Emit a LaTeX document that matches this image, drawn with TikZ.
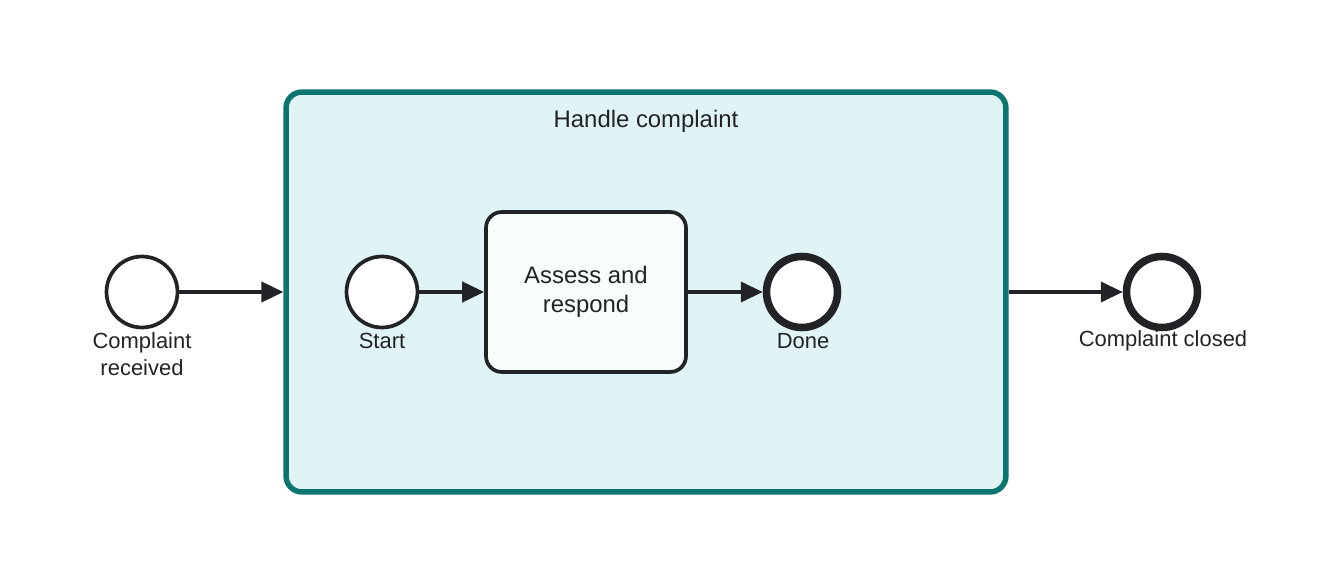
\documentclass[tikz,border=0pt]{standalone}
\usepackage{fontspec}
\setmainfont{Liberation Sans}
\usepackage{xcolor}
\usetikzlibrary{arrows.meta,positioning}

\definecolor{ink}{HTML}{222326}
\definecolor{subline}{HTML}{0E7470}
\definecolor{subfill}{HTML}{E0F4F5}
\definecolor{taskfill}{HTML}{F8FCFB}

\begin{document}
\begin{tikzpicture}[
    x=0.02cm, y=-0.02cm,
    event/.style={draw=ink, circle, line width=2.1pt, minimum size=1.42cm,
    inner sep=0pt, fill=white},
    endevent/.style={event, line width=4.3pt},
    task/.style={draw=ink, rounded corners=9pt, line width=2.1pt, fill=taskfill,
    minimum width=4cm, minimum height=3.2cm, align=center, text=ink,
    font=\fontsize{13.6}{16.5}\selectfont},
    subproc/.style={draw=subline, fill=subfill, rounded corners=9pt,
    line width=3.1pt, minimum width=14.4cm, minimum height=8cm},
    lbl/.style={align=center, text=ink, font=\fontsize{12.5}{15.3}\selectfont},
    arr/.style={-{Triangle[length=12.5pt,width=11.5pt]}, line width=1.9pt, draw=ink}
]
\useasboundingbox (0,0) rectangle (1340,584);
\node[subproc] (sub) at (646,292) {};
\node[lbl, font=\fontsize{13.6}{16}\selectfont] (subtitle) at (646,121) {Handle complaint};
\node[event] (received) at (142,292) {};
\node[event] (start) at (382,292) {};
\node[task] (assess) at (586,292) {Assess and\\respond};
\node[endevent] (done) at (802,292) {};
\node[endevent] (closed) at (1162,292) {};
\node[lbl] (receivedlbl) at (142,354) {Complaint\\received};
\node[lbl] (startlbl) at (382,341) {Start};
\node[lbl] (donelbl) at (803,341) {Done};
\node[lbl] (closedlbl) at (1163,341) {Complaint closed};
\draw[arr] (received) -- (sub.west |- received);
\draw[arr] (start) -- (start -| assess.west);
\draw[arr] (assess.east |- done) -- (done);
\draw[arr] (sub.east |- closed) -- (closed);
\end{tikzpicture}
\end{document}
